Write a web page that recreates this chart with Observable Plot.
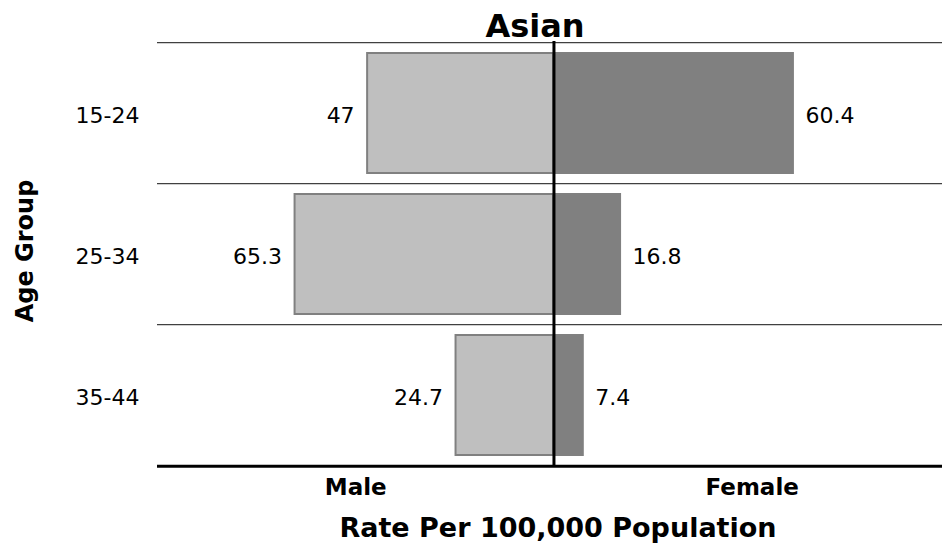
<!DOCTYPE html>
<html><head><meta charset="utf-8">
<script src="https://cdn.jsdelivr.net/npm/d3@7"></script>
<script src="https://cdn.jsdelivr.net/npm/@observablehq/plot@0.6"></script>
<style>body{margin:0;background:#fff}</style>
</head><body><div id="chart"></div>
<script>
const ageGroups = ["15-24", "25-34", "35-44"];
const maleRates = [47, 65.3, 24.7];
const femaleRates = [60.4, 16.8, 7.4];
const sexLabels = ["Male", "Female"];
const titleText = "Asian";
const xTitle = "Rate Per 100,000 Population";
const yTitle = "Age Group";

const W = 942, H = 547, mT = 41, mB = 81, mL = 157, mR = 0;
const step = (H - mT - mB) / ageGroups.length;

const male = ageGroups.map((age, i) => ({age, value: -maleRates[i], label: String(maleRates[i])}));
const female = ageGroups.map((age, i) => ({age, value: femaleRates[i], label: String(femaleRates[i])}));

const chart = Plot.plot({
  width: W, height: H,
  marginTop: mT, marginBottom: mB, marginLeft: mL, marginRight: mR,
  style: {fontFamily: "DejaVu Sans", background: "#fff", color: "#000"},
  x: {domain: [-100, 98]},
  y: {domain: ageGroups, paddingInner: 0.15, paddingOuter: 0.075},
  marks: [
    Plot.ruleY(ageGroups, {y: d => d, dy: -step / 2, stroke: "#404040", strokeWidth: 1.3}),
    Plot.barX(male, {x: "value", y: "age", fill: "#bfbfbf", stroke: "#808080", strokeWidth: 2}),
    Plot.barX(female, {x: "value", y: "age", fill: "#808080", stroke: "#808080", strokeWidth: 2}),
    Plot.ruleX([0], {stroke: "#000", strokeWidth: 3}),
    Plot.ruleY([ageGroups[ageGroups.length - 1]], {y: d => d, dy: step / 2, stroke: "#000", strokeWidth: 3}),
    Plot.text(male, {x: "value", y: "age", text: "label", textAnchor: "end", dx: -13, dy: 2, fontSize: 22, fill: "#000"}),
    Plot.text(female, {x: "value", y: "age", text: "label", textAnchor: "start", dx: 12, dy: 2, fontSize: 22, fill: "#000"}),
    Plot.axisY({tickSize: 0, tickPadding: 18, fontSize: 22, label: null, dy: 2}),
    Plot.axisX({ticks: [-50, 50], tickFormat: d => d < 0 ? sexLabels[0] : sexLabels[1], tickSize: 0, tickPadding: 12, fontSize: 23, fontWeight: "bold", label: null}),
    Plot.text([titleText], {frameAnchor: "top", lineAnchor: "bottom", dy: -5, dx: -15, fontSize: 32, fontWeight: "bold", fill: "#000"}),
    Plot.text([xTitle], {frameAnchor: "bottom", lineAnchor: "bottom", dy: 70, dx: 8, fontSize: 27, fontWeight: "bold", fill: "#000"}),
    Plot.text([yTitle], {frameAnchor: "left", textAnchor: "middle", lineAnchor: "bottom", rotate: -90, dx: -125, dy: -3, fontSize: 24, fontWeight: "bold", fill: "#000"})
  ]
});
document.getElementById("chart").appendChild(chart);
</script>
</body></html>
